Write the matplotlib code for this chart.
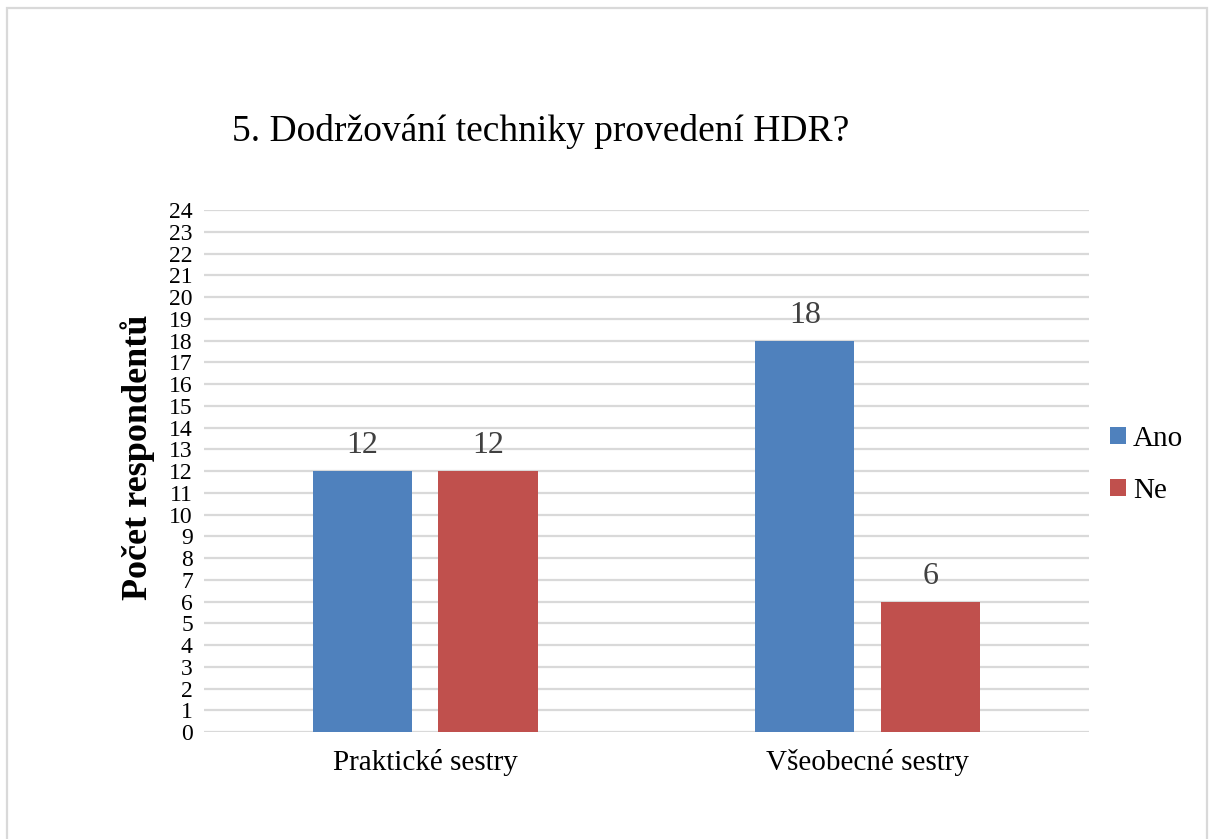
import matplotlib.pyplot as plt
import numpy as np
from matplotlib.patches import Rectangle

plt.rcParams['font.family'] = ['Liberation Serif', 'DejaVu Serif']

categories = ['Praktické sestry', 'Všeobecné sestry']
series_names = ['Ano', 'Ne']
ano = [12, 18]
ne = [12, 6]
colors = ['#4F81BD', '#C0504D']

fig = plt.figure(figsize=(12.09, 8.39), dpi=100)
ax = fig.add_axes([0.1687, 0.1275, 0.7320, 0.6222])

x = np.arange(len(categories))
width = 0.224
offset = 0.142
bars = []
for vals, off, col, name in zip([ano, ne], [-offset, offset], colors, series_names):
    b = ax.bar(x + off, vals, width, color=col, label=name, zorder=3)
    bars.append(b)
    for rect, v in zip(b, vals):
        ax.text(rect.get_x() + rect.get_width() / 2, v + 0.5, str(v),
                ha='center', va='bottom', fontsize=23, color='#404040')

ax.set_xlim(-0.5, 1.5)
ax.set_ylim(0, 24)
ax.set_yticks(range(0, 25))
ax.yaxis.grid(True, color='#D9D9D9', linewidth=1.6, zorder=0)
ax.set_axisbelow(True)
for _, v in ax.spines.items():
    v.set_visible(False)
ax.tick_params(axis='both', length=0)
ax.tick_params(axis='y', labelsize=17, pad=8)
ax.set_xticks(x)
ax.set_xticklabels(categories, fontsize=21)
ax.tick_params(axis='x', pad=12)
ax.set_ylabel('Počet respondentů', fontsize=26, fontweight='bold',
              va='center', ha='center')
ax.yaxis.set_label_coords(-0.075, 0.526)

fig.text(0.447, 0.843, '5. Dodržování techniky provedení HDR?', ha='center', va='center', fontsize=27)

leg = fig.legend(handles=bars, labels=series_names, loc='center left',
                 bbox_to_anchor=(0.896, 0.446), frameon=False, fontsize=21,
                 handlelength=0.55, handleheight=0.55, handletextpad=0.25,
                 labelspacing=0.9)

# thin frame around the whole chart
fig.patches.append(Rectangle((0.0055, -0.01), 0.9925, 1.0, transform=fig.transFigure,
                             fill=False, edgecolor='#D9D9D9', linewidth=1.6))

fig.savefig('out.png', dpi=100)
